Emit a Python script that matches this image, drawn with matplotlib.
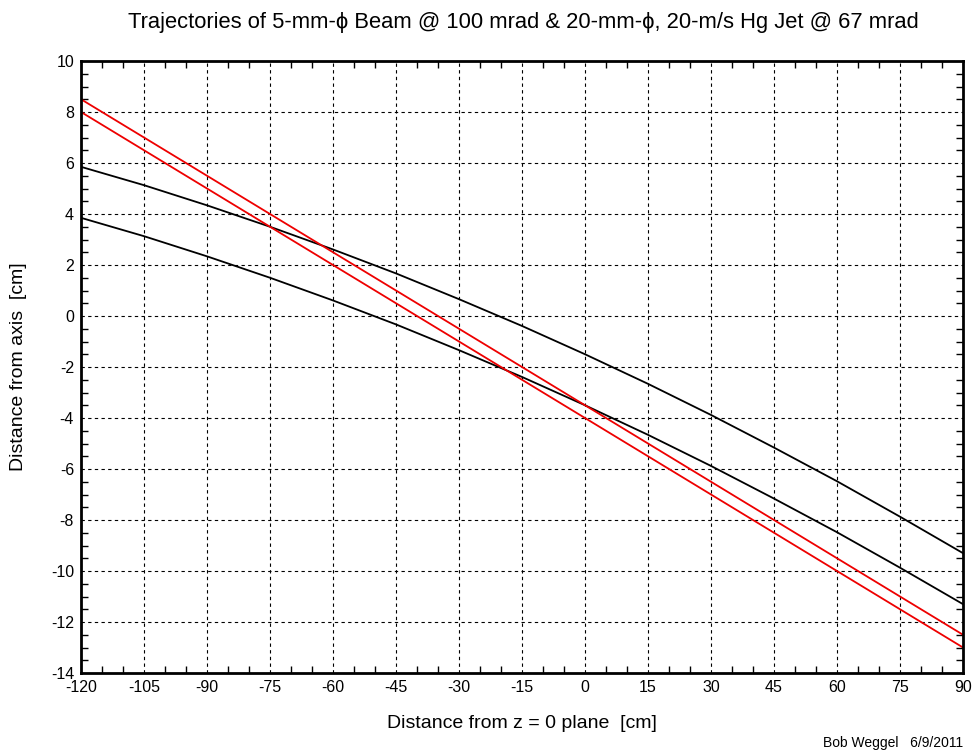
import matplotlib
matplotlib.use("Agg")
import matplotlib.pyplot as plt
from matplotlib.ticker import MultipleLocator

plt.rcParams['font.family'] = ['Liberation Sans', 'DejaVu Sans']
plt.rcParams['axes.unicode_minus'] = False

z = [-120, -105, -90, -75, -60, -45, -30, -15, 0, 15, 30, 45, 60, 75, 90]

# beam edges (red, straight)
beam_upper = [8.5, 7.0, 5.5, 4.0, 2.5, 1.0, -0.5, -2.0, -3.5, -5.0, -6.5, -8.0, -9.5, -11.0, -12.5]
beam_lower = [8.0, 6.5, 5.0, 3.5, 2.0, 0.5, -1.0, -2.5, -4.0, -5.5, -7.0, -8.5, -10.0, -11.5, -13.0]

# jet edges (black, curved)
jet_upper = [5.85, 5.13, 4.34, 3.50, 2.61, 1.67, 0.66, -0.39, -1.50, -2.66, -3.88, -5.16, -6.48, -7.87, -9.30]
jet_lower = [3.85, 3.13, 2.34, 1.50, 0.61, -0.33, -1.34, -2.39, -3.50, -4.66, -5.88, -7.16, -8.48, -9.87, -11.30]

xticks = [-120, -105, -90, -75, -60, -45, -30, -15, 0, 15, 30, 45, 60, 75, 90]
yticks = [-14, -12, -10, -8, -6, -4, -2, 0, 2, 4, 6, 8, 10]

W, H = 974, 751
fig = plt.figure(figsize=(W / 100, H / 100), dpi=100)
ax = fig.add_axes([81/W, 1 - 673/H, (963-81)/W, (673-61)/H])

ax.plot(z, jet_upper, color='black', lw=1.3)
ax.plot(z, jet_lower, color='black', lw=1.3)
ax.plot(z, beam_upper, color='#ee0000', lw=1.3)
ax.plot(z, beam_lower, color='#ee0000', lw=1.3)

ax.set_xlim(-120, 90)
ax.set_ylim(-14, 10)
ax.set_xticks(xticks)
ax.set_yticks(yticks)
ax.xaxis.set_minor_locator(MultipleLocator(5))
ax.yaxis.set_minor_locator(MultipleLocator(0.5))
ax.tick_params(which='both', direction='in', top=True, right=True, labelsize=11.5, pad=5)
ax.tick_params(which='major', length=0)
ax.tick_params(which='minor', length=5, width=1)
for s in ax.spines.values():
    s.set_linewidth(2)

ax.grid(True, which='major', color='black', linestyle=(0, (3, 3)), linewidth=0.8)

fig.text(523/W, 1 - 28/H,
         'Trajectories of 5-mm-\u03d5 Beam @ 100 mrad & 20-mm-\u03d5, 20-m/s Hg Jet @ 67 mrad',
         fontsize=15.8, ha='center', va='baseline')

ax.set_xlabel('Distance from z = 0 plane  [cm]', fontsize=14)
ax.xaxis.set_label_coords(0.5, -(715 - 673) / 612)
ax.set_ylabel('Distance from axis  [cm]', fontsize=14)
ax.yaxis.set_label_coords((27 - 81) / 882, 0.5)

fig.text(963/W, 1 - 743/H, 'Bob Weggel   6/9/2011', fontsize=10, ha='right', va='center')

fig.savefig('out.png', dpi=100)
